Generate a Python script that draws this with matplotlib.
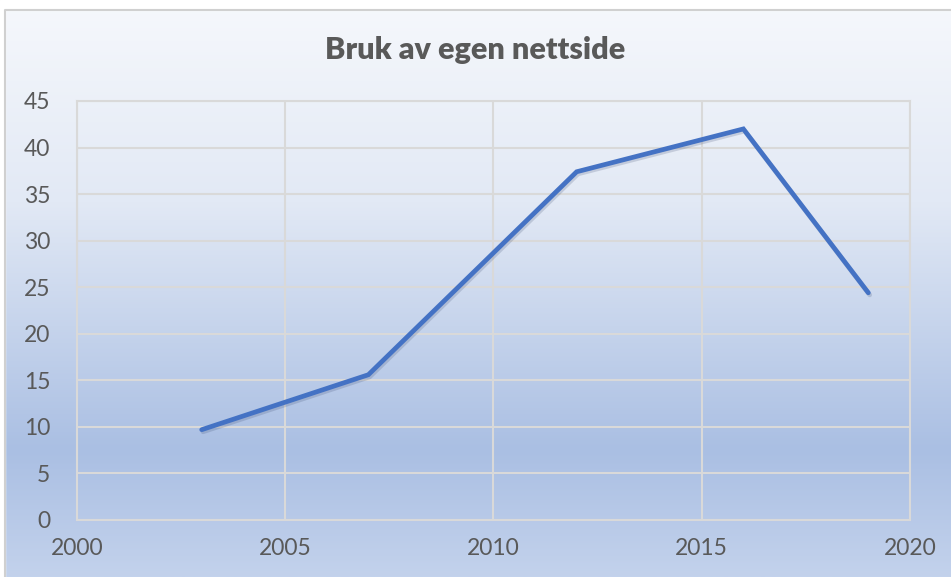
import numpy as np
import matplotlib
matplotlib.use("Agg")
import matplotlib.pyplot as plt
from matplotlib.colors import LinearSegmentedColormap
from matplotlib.patches import Rectangle
import matplotlib.patheffects as pe

# data
years = [2003, 2007, 2012, 2016, 2019]
usage = [9.7, 15.6, 37.4, 42.0, 24.4]
title = "Bruk av egen nettside"
x_ticks = [2000, 2005, 2010, 2015, 2020]
y_ticks = list(range(0, 50, 5))

plt.rcParams["font.family"] = ["Lato", "DejaVu Sans"]

fig = plt.figure(figsize=(9.51, 5.77), dpi=100)

# gradient background of the chart area
bg = fig.add_axes([0, 0, 1, 1], zorder=0)
grad = LinearSegmentedColormap.from_list("bg", [
    (0.0, "#f6f8fc"), (0.35, "#e2e9f5"), (0.78, "#aabfe3"), (1.0, "#c3d2ec")])
g = np.linspace(0, 1, 256).reshape(-1, 1)
bg.imshow(g, cmap=grad, aspect="auto", extent=[0, 1, 0, 1], origin="upper")
bg.add_patch(Rectangle((0, 1 - 10 / 577), 1, 10 / 577, transform=bg.transAxes,
                       color="white", zorder=2))
bg.add_patch(Rectangle((0, 0), 5 / 951, 1, transform=bg.transAxes, color="white", zorder=2))
bg.plot([5 / 951, 5 / 951, 1], [0, 1 - 10 / 577, 1 - 10 / 577], color="#d0d0d0", lw=1.5,
        transform=bg.transAxes, zorder=3)
bg.set_xlim(0, 1); bg.set_ylim(0, 1)
bg.axis("off")

ax = fig.add_axes([76.7 / 951, 1 - 520 / 577, (910 - 76.7) / 951, (520 - 101) / 577], zorder=1)
ax.patch.set_alpha(0)
ax.plot(years, usage, color="#4472C4", lw=3.4, solid_capstyle="round", solid_joinstyle="miter",
        path_effects=[pe.SimpleLineShadow(offset=(1, -1.5), alpha=0.2, shadow_color="#3a4a70"),
                      pe.Normal()], zorder=3)
ax.set_xlim(2000, 2020)
ax.set_ylim(0, 45)
ax.set_xticks(x_ticks)
ax.set_yticks(y_ticks)
ax.grid(True, color="#d9d9d9", lw=1.5)
ax.set_axisbelow(True)
for s in ax.spines.values():
    s.set_color("#d9d9d9"); s.set_linewidth(1.5)
ax.tick_params(length=0, labelsize=16.5, labelcolor="#595959")
ax.tick_params(axis="y", pad=19)
ax.tick_params(axis="x", pad=13)

fig.text(0.5, 1 - 50 / 577, title, ha="center", va="center", fontsize=22,
         fontweight="heavy", color="#595959")

fig.savefig("out.png", dpi=100)
